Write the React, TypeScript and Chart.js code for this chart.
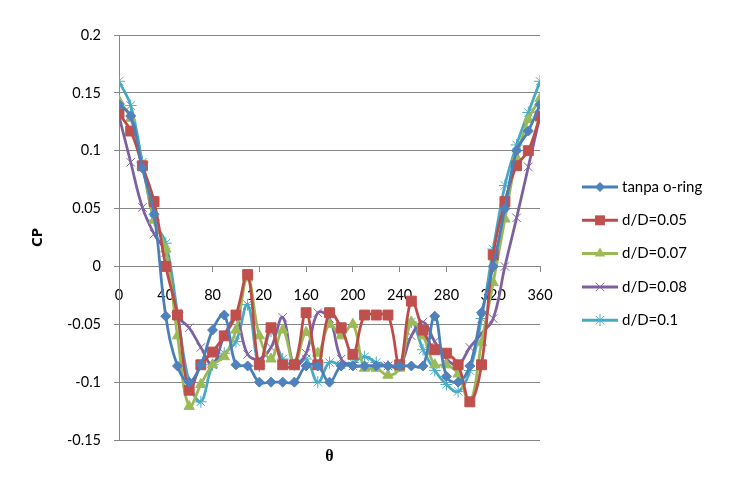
import React, { useEffect, useRef } from "react";
import { Chart, registerables } from "chart.js";

Chart.register(...registerables);

const theta = [0, 10, 20, 30, 40, 50, 60, 70, 80, 90, 100, 110, 120, 130, 140, 150, 160, 170, 180, 190, 200, 210, 220, 230, 240, 250, 260, 270, 280, 290, 300, 310, 320, 330, 340, 350, 360];

const tanpaORing = [0.14, 0.13, 0.085, 0.045, -0.043, -0.086, -0.1, -0.085, -0.055, -0.042, -0.085, -0.086, -0.1, -0.1, -0.1, -0.1, -0.086, -0.086, -0.1, -0.086, -0.086, -0.086, -0.086, -0.086, -0.086, -0.086, -0.086, -0.043, -0.095, -0.1, -0.086, -0.04, 0.0, 0.05, 0.1, 0.117, 0.14];
const dD005 = [0.132, 0.117, 0.087, 0.056, 0.0, -0.042, -0.107, -0.085, -0.074, -0.06, -0.042, -0.007, -0.085, -0.053, -0.085, -0.085, -0.04, -0.085, -0.04, -0.053, -0.076, -0.042, -0.042, -0.042, -0.085, -0.03, -0.055, -0.072, -0.075, -0.085, -0.117, -0.085, 0.01, 0.056, 0.087, 0.1, 0.13];
const dD007 = [0.143, 0.128, 0.087, 0.04, 0.015, -0.06, -0.121, -0.102, -0.085, -0.078, -0.055, -0.01, -0.06, -0.08, -0.055, -0.085, -0.057, -0.075, -0.05, -0.06, -0.05, -0.088, -0.088, -0.094, -0.088, -0.048, -0.06, -0.085, -0.085, -0.093, -0.118, -0.066, -0.014, 0.041, 0.094, 0.127, 0.145];
const dD008 = [0.13, 0.09, 0.051, 0.028, 0.012, -0.042, -0.053, -0.07, -0.085, -0.06, -0.045, -0.076, -0.08, -0.07, -0.044, -0.086, -0.075, -0.04, -0.045, -0.08, -0.086, -0.086, -0.086, -0.086, -0.086, -0.06, -0.048, -0.065, -0.08, -0.085, -0.07, -0.058, -0.045, 0.0, 0.042, 0.086, 0.13];
const dD01 = [0.16, 0.139, 0.09, 0.04, 0.02, -0.04, -0.1, -0.117, -0.085, -0.075, -0.065, -0.033, -0.086, -0.056, -0.08, -0.085, -0.08, -0.1, -0.083, -0.085, -0.083, -0.078, -0.083, -0.086, -0.086, -0.048, -0.072, -0.09, -0.102, -0.108, -0.09, -0.045, 0.015, 0.07, 0.105, 0.133, 0.16];

const seriesNames = ["tanpa o-ring", "d/D=0.05", "d/D=0.07", "d/D=0.08", "d/D=0.1"];
const seriesValues = [tanpaORing, dD005, dD007, dD008, dD01];
const lineColors = ["#4A7EBB", "#BE4B48", "#98B954", "#7D60A0", "#46AAC5"];
const markerColors = ["#4F81BD", "#C0504D", "#9BBB59", "#8064A2", "#4BACC6"];
const markerStyles = ["rectRot", "rect", "triangle", "crossRot", "star"];
const markerRadii = [5, 7, 6, 6, 6];

const xTitle = "θ";
const yTitle = "CP";

const FONT = "Lato, 'Noto Sans', sans-serif";
const TITLE_FONT = "'Noto Sans', 'DejaVu Sans', sans-serif";
const THETA_FONT = "'Liberation Serif', 'DejaVu Serif', serif";

function drawMarker(ctx: CanvasRenderingContext2D, style: string, x: number, y: number, r: number, color: string) {
  ctx.save();
  ctx.fillStyle = color;
  ctx.strokeStyle = color;
  ctx.lineWidth = 1;
  ctx.beginPath();
  if (style === "rectRot") {
    ctx.moveTo(x - r, y);
    ctx.lineTo(x, y - r);
    ctx.lineTo(x + r, y);
    ctx.lineTo(x, y + r);
    ctx.closePath();
    ctx.fill();
  } else if (style === "rect") {
    const s = r * Math.SQRT1_2;
    ctx.rect(x - s, y - s, 2 * s, 2 * s);
    ctx.fill();
  } else if (style === "triangle") {
    const h = r * 1.5;
    ctx.moveTo(x, y - h * 2 / 3);
    ctx.lineTo(x + r * 0.87, y + h / 3);
    ctx.lineTo(x - r * 0.87, y + h / 3);
    ctx.closePath();
    ctx.fill();
  } else if (style === "crossRot") {
    const d = r * Math.SQRT1_2;
    ctx.moveTo(x - d, y - d);
    ctx.lineTo(x + d, y + d);
    ctx.moveTo(x - d, y + d);
    ctx.lineTo(x + d, y - d);
    ctx.stroke();
  } else if (style === "star") {
    const d = r * Math.SQRT1_2;
    ctx.moveTo(x - d, y - d);
    ctx.lineTo(x + d, y + d);
    ctx.moveTo(x - d, y + d);
    ctx.lineTo(x + d, y - d);
    ctx.moveTo(x, y - r);
    ctx.lineTo(x, y + r);
    ctx.stroke();
  }
  ctx.restore();
}

const legendPlugin = {
  id: "customLegend",
  afterDraw(chart: any) {
    const ctx = chart.ctx as CanvasRenderingContext2D;
    const x0 = 582;
    const x1 = 618;
    const yStart = 187;
    const step = 33.3;
    ctx.save();
    seriesNames.forEach((name, i) => {
      const y = yStart + i * step;
      ctx.strokeStyle = lineColors[i];
      ctx.lineWidth = 3;
      ctx.beginPath();
      ctx.moveTo(x0, y);
      ctx.lineTo(x1, y);
      ctx.stroke();
      drawMarker(ctx, markerStyles[i], (x0 + x1) / 2, y, markerRadii[i], markerColors[i]);
      ctx.fillStyle = "#000";
      ctx.font = `15px ${FONT}`;
      ctx.textBaseline = "middle";
      ctx.textAlign = "left";
      ctx.fillText(name, 622, y);
    });
    ctx.restore();
  },
};

export default function App() {
  const ref = useRef<HTMLCanvasElement | null>(null);

  useEffect(() => {
    document.body.style.margin = "0";
    if (!ref.current) return;
    const datasets = seriesNames.map((name, i) => ({
      label: name,
      data: theta.map((t, j) => ({ x: t, y: seriesValues[i][j] })),
      borderColor: lineColors[i],
      backgroundColor: markerColors[i],
      pointBackgroundColor: markerColors[i],
      pointBorderColor: markerColors[i],
      pointBorderWidth: 1,
      pointStyle: markerStyles[i],
      pointRadius: markerRadii[i],
      borderWidth: 2.75,
      tension: 0.4,
      showLine: true,
      fill: false,
      xAxisID: "x",
      yAxisID: "y",
    }));

    const chart = new Chart(ref.current, {
      type: "scatter",
      data: { datasets },
      options: {
        animation: false,
        responsive: false,
        maintainAspectRatio: false,
        layout: { padding: { top: 35, right: 200, left: 0, bottom: 0 } },
        plugins: {
          legend: { display: false },
          tooltip: { enabled: false },
        },
        scales: {
          x: {
            type: "linear",
            min: 0,
            max: 360,
            position: { y: 0 } as any,
            ticks: {
              stepSize: 40,
              color: "#000",
              font: { family: FONT, size: 14.5 },
              padding: 15,
              maxRotation: 0,
            },
            grid: { display: true, drawOnChartArea: false, drawTicks: true, tickLength: 5, color: "#868686" },
            border: { display: true, color: "#868686", width: 1 },
          },
          x2: {
            type: "linear",
            min: 0,
            max: 360,
            position: "bottom",
            ticks: { display: false },
            grid: { display: false, drawTicks: false },
            border: { display: false },
            title: {
              display: true,
              text: xTitle,
              color: "#000",
              font: { family: THETA_FONT, size: 16, weight: "bold" },
              padding: { top: 0, bottom: 22 },
            },
            afterFit: (s: any) => {
              s.height = 48;
            },
          },
          y: {
            type: "linear",
            min: -0.15,
            max: 0.2,
            position: "left",
            ticks: {
              stepSize: 0.05,
              color: "#000",
              font: { family: FONT, size: 14.5 },
              padding: 13,
              callback: (v: any) => {
                const n = Math.round(Number(v) * 100) / 100;
                return String(n);
              },
            },
            grid: { color: "#868686", lineWidth: 1, tickLength: 5, drawTicks: true },
            border: { display: true, color: "#868686", width: 1 },
            title: {
              display: true,
              text: yTitle,
              color: "#000",
              font: { family: TITLE_FONT, size: 15, weight: "bold" },
              padding: { top: 29, bottom: 0 },
            },
            afterFit: (s: any) => {
              s.width = 119;
            },
          },
        },
      },
      plugins: [legendPlugin],
    } as any);

    return () => {
      chart.destroy();
    };
  }, []);

  return (
    <div style={{ width: 740, height: 488 }}>
      <canvas ref={ref} width={740} height={488} style={{ display: "block", width: 740, height: 488 }} />
    </div>
  );
}
